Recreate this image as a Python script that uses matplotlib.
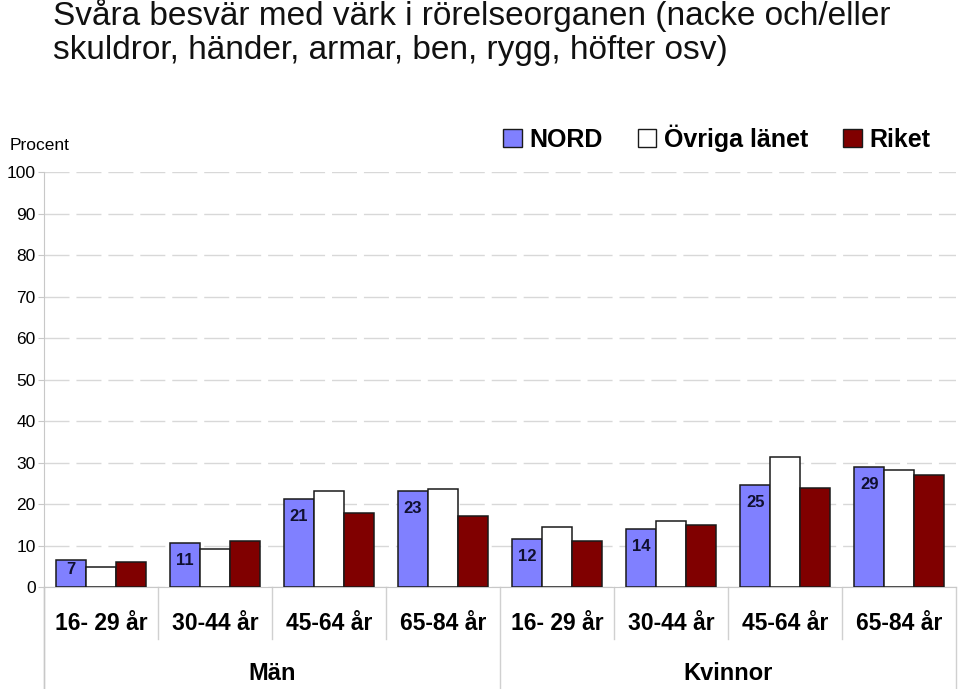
import matplotlib
matplotlib.use('Agg')

from matplotlib import pyplot as plt
from matplotlib.patches import Patch
import numpy as np

plt.rcParams['font.family'] = ['Liberation Sans', 'DejaVu Sans']

age_groups = ['16- 29 år', '30-44 år', '45-64 år', '65-84 år',
              '16- 29 år', '30-44 år', '45-64 år', '65-84 år']
sexes = ['Män', 'Kvinnor']
series_names = ['NORD', 'Övriga länet', 'Riket']
nord = [6.6, 10.6, 21.2, 23.1, 11.6, 14.0, 24.6, 28.9]
nord_labels = [7, 11, 21, 23, 12, 14, 25, 29]
ovriga = [4.8, 9.2, 23.1, 23.6, 14.5, 15.9, 31.3, 28.2]
riket = [6.0, 11.1, 17.8, 17.1, 11.1, 14.9, 23.9, 27.0]
colors = ['#8080FF', '#FFFFFF', '#800000']

fig = plt.figure(figsize=(9.6, 6.89), dpi=100)
ax = fig.add_axes([0.0458, 0.148, 0.9502, 0.602])

x = np.arange(len(age_groups))
w = 0.263
for k, (vals, c) in enumerate(zip([nord, ovriga, riket], colors)):
    ax.bar(x + (k - 1) * w, vals, w, color=c, edgecolor='#1a1a1a',
           linewidth=1.1, zorder=3)

for xi, v, lab in zip(x, nord, nord_labels):
    y = max(v - 4.2, v / 2 + 0.9)
    ax.text(xi - w, y, str(lab), ha='center', va='center', fontsize=12,
            fontweight='bold', color='#101030', zorder=4)

ax.set_xlim(-0.5, len(age_groups) - 0.5)
ax.set_ylim(0, 100)
ax.set_yticks(np.arange(0, 101, 10))
ax.tick_params(axis='y', labelsize=12.5, length=4, color='#c8c8c8', pad=2)
ax.set_xticks([])
ax.yaxis.grid(True, color='#d8d8d8', linewidth=1.0, dashes=(18, 5))
ax.set_axisbelow(True)
for s in ['top', 'right']:
    ax.spines[s].set_visible(False)
ax.spines['left'].set_color('#c8c8c8')
ax.spines['bottom'].set_color('#c8c8c8')

# category labels and separators below the axis
trans = ax.get_xaxis_transform()
for xi, lab in enumerate(age_groups):
    ax.text(xi, -0.087, lab, transform=trans, ha='center', va='center',
            fontsize=16.5, fontweight='bold', clip_on=False)
for b in np.arange(-0.5, len(age_groups), 1.0):
    long = b in (-0.5, 3.5, 7.5)
    y1 = -0.25 if long else -0.125
    ax.plot([b, b], [0, y1], transform=trans, color='#d0d0d0',
            linewidth=1.0, clip_on=False)
for i, s in enumerate(sexes):
    ax.text(1.5 + 4 * i, -0.208, s, transform=trans, ha='center', va='center',
            fontsize=17, fontweight='bold', clip_on=False)

ax.text(-0.038, 1.065, 'Procent', transform=ax.transAxes, fontsize=12.5,
        ha='left', va='center')
ax.spines['left'].set_bounds(0, 100)
ax.plot([-0.5, -0.5], [0, -0.25], transform=trans, color='#c8c8c8',
        linewidth=1.0, clip_on=False)

handles = [Patch(facecolor=c, edgecolor='#1a1a1a', linewidth=1.0) for c in colors]
leg = fig.legend(handles, series_names, loc='center left',
                 bbox_to_anchor=(0.524, 0.80), ncol=3, frameon=False,
                 prop={'size': 18, 'weight': 'bold'}, handlelength=0.75,
                 handleheight=0.75, handletextpad=0.3, columnspacing=1.4,
                 borderaxespad=0, borderpad=0)

fig.text(0.055, 0.978, 'Svåra besvär med värk i rörelseorganen (nacke och/eller',
         fontsize=24, ha='left', va='center', color='#111111')
fig.text(0.055, 0.927, 'skuldror, händer, armar, ben, rygg, höfter osv)',
         fontsize=24, ha='left', va='center', color='#111111')

fig.savefig('out.png', dpi=100)
